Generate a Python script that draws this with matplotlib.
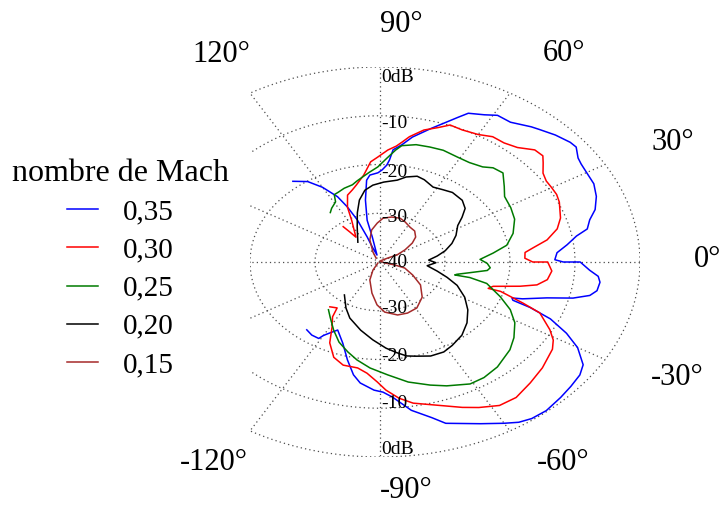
import numpy as np
import matplotlib
matplotlib.use("Agg")
import matplotlib.pyplot as plt

plt.rcParams['font.family'] = ['Liberation Serif', 'DejaVu Serif']

# directivity, angle (deg) and level (dB) for each Mach number
angle_035 = [129, 124, 120, 116, 114, 112, 111, 111, 108, 103, 103, 100, 97, 95, 91, 89, 87, 86, 85, 82,
             79, 74, 71, 68, 66, 62, 59, 55, 50, 48, 44, 40, 38, 35, 33, 30, 26, 22, 18, 15,
             12, 10, 7, 4, 1, 0, 0, -3, -5, -7, -10, -12, -14, -16, -19, -20, -21, -22, -24, -27,
             -30, -34, -37, -41, -45, -50, -54, -57, -60, -65, -73, -76, -81, -86, -89, -92, -97, -100, -104, -109,
             -115, -118, -120, -121, -125, -129]
level_035 = [-18.7, -20.1, -22.3, -25.1, -27.6, -30.7, -34.5, -36.9, -38.5, -34.7,
             -31.2, -27.1, -23.1, -22.1, -21.7, -21.1, -20.1, -19.0, -16.9, -15.7,
             -13.9, -11.5, -9.9, -8.0, -6.6, -5.8, -4.9, -5.0, -3.8, -3.4,
             -2.5, -1.8, -1.7, -2.8, -3.1, -3.3, -3.4, -4.1, -5.2, -6.6,
             -7.4, -9.3, -11.0, -12.7, -13.1, -11.8, -9.2, -7.7, -6.3, -5.9,
             -6.1, -7.0, -9.4, -13.3, -16.8, -18.4, -18.1, -15.1, -11.3, -7.8,
             -4.9, -2.3, -1.5, -1.1, -0.7, -0.2, -0.3, -0.8, -1.8, -3.4,
             -5.4, -7.1, -9.2, -12.2, -13.3, -13.7, -15.0, -16.5, -19.3, -22.4,
             -24.6, -23.5, -22.6, -21.7, -21.7, -22.1]

angle_030 = [128, 127, 126, 117, 114, 110, 106, 103, 98, 94, 91, 87, 84, 82, 80, 76, 72, 69, 65, 60,
             56, 52, 48, 45, 44, 41, 39, 36, 33, 30, 27, 24, 18, 14, 10, 7, 5, 2, 0, 0,
             -4, -8, -11, -13, -16, -18, -18, -21, -23, -28, -31, -34, -41, -47, -53, -58, -63, -67, -75, -80,
             -84, -88, -91, -95, -99, -105, -110, -115, -119, -123, -125, -130]
level_030 = [-30.8, -32.3, -33.7, -30.4, -27.7, -25.4, -24.6, -23.8, -22.0, -19.4,
             -18.5, -17.0, -16.1, -15.1, -13.9, -12.1, -11.0, -9.9, -10.1, -9.8,
             -9.0, -9.0, -8.4, -7.3, -6.9, -6.8, -7.7, -9.0, -9.5, -9.5,
             -9.5, -9.8, -10.8, -11.9, -13.9, -16.3, -17.6, -17.7, -16.5, -14.2,
             -13.5, -14.0, -15.4, -17.9, -21.9, -22.5, -20.5, -16.4, -13.3, -10.4,
             -8.9, -8.0, -6.9, -6.1, -5.2, -5.3, -6.5, -7.6, -9.7, -10.6,
             -11.9, -13.7, -15.4, -17.1, -18.0, -18.1, -19.2, -21.7, -24.8, -26.6,
             -28.5, -28.0]

angle_025 = [127, 124, 119, 117, 114, 110, 105, 102, 98, 95, 91, 87, 84, 82, 77, 72, 67, 61, 56, 51,
             48, 44, 39, 35, 29, 23, 16, 10, 6, 2, -1, -4, -6, -9, -12, -13, -13, -15, -21, -26,
             -31, -37, -42, -50, -56, -61, -68, -73, -80, -87, -94, -100, -105, -111, -117, -124, -129]
level_025 = [-27.3, -26.7, -25.9, -24.5, -24.3, -23.9, -23.6, -23.0, -22.2, -21.5,
             -20.5, -18.6, -16.9, -15.9, -15.3, -15.2, -15.1, -15.4, -15.4, -14.9,
             -14.0, -13.7, -15.4, -16.6, -17.0, -17.5, -18.7, -20.2, -22.5, -24.6,
             -23.5, -23.0, -23.4, -26.0, -27.9, -28.2, -25.8, -23.0, -20.2, -17.7,
             -15.8, -14.2, -13.1, -11.9, -11.4, -11.4, -12.6, -13.6, -15.0, -16.8,
             -18.2, -19.6, -20.9, -22.4, -24.3, -26.3, -27.4]

angle_020 = [130, 116, 109, 104, 99, 94, 88, 81, 77, 72, 68, 62, 57, 52, 45, 40, 36, 32, 25, 19,
             13, 8, 3, -1, -6, -12, -17, -22, -29, -36, -43, -50, -57, -62, -68, -74, -78, -82, -87, -94,
             -102, -112, -119, -129]
level_020 = [-34.7, -32.0, -29.3, -26.9, -25.1, -24.2, -23.6, -23.0, -22.1, -21.5,
             -21.8, -22.6, -22.3, -21.9, -22.1, -22.9, -24.4, -25.9, -27.1, -28.3,
             -29.7, -31.1, -32.5, -31.4, -32.7, -31.0, -29.2, -27.2, -25.1, -23.3,
             -21.7, -20.4, -19.6, -19.1, -19.2, -19.9, -20.3, -21.2, -22.3, -24.0,
             -25.7, -27.6, -29.2, -31.3]

angle_015 = [127, 118, 109, 101, 93, 87, 79, 71, 65, 57, 50, 43, 38, 33, 29, 34, 90, -15, -15, -18,
             -28, -37, -48, -59, -68, -76, -86, -93, -101, -113, -123, -146]
level_015 = [-39.0, -37.7, -35.2, -33.3, -32.0, -31.0, -30.6, -30.5, -30.9, -31.5,
             -31.7, -32.5, -33.7, -35.4, -37.0, -38.5, -39.8, -39.2, -37.6, -36.0,
             -34.3, -32.2, -30.3, -29.0, -28.7, -28.8, -29.7, -31.2, -33.5, -36.0,
             -38.0, -39.6]

mach_labels = ['0,35', '0,30', '0,25', '0,20', '0,15']
ring_levels = [-10, -20, -30, 0]
spoke_angles = list(range(0, 360, 30))

R0 = -40.0  # level at the centre


def to_xy(ang, lev):
    rho = np.asarray(lev, float) - R0
    a = np.radians(ang)
    return rho * np.cos(a), rho * np.sin(a)


fig = plt.figure(figsize=(7.2, 5.08), dpi=100)
ax = fig.add_axes([250/720, 51/508, 390/720, 390/508])
ax.set_xlim(-20, 40)
ax.set_ylim(-40, 40)
ax.axis('off')

# dotted polar grid, clipped by the axes box
grid = dict(color='0.3', lw=0.9, ls=(0, (1, 2.5)))
t = np.linspace(0, 360, 400)
for lev in ring_levels:
    ax.plot(*to_xy(t, np.full_like(t, lev)), **grid)
for a in spoke_angles:
    ax.plot(*to_xy([a, a], [R0, 0]), **grid)

series = [(angle_035, level_035, 'blue'),
          (angle_030, level_030, 'red'),
          (angle_025, level_025, '#007a00'),
          (angle_020, level_020, 'black'),
          (angle_015, level_015, 'brown')]
handles = []
for (ang, lev, col), lab in zip(series, mach_labels):
    h, = ax.plot(*to_xy(ang, lev), color=col, lw=1.1, label=lab)
    handles.append(h)

angle_txt = ['90°', '60°', '30°', '0°', '-30°', '-60°', '-90°', '-120°', '120°']
angle_pos = [(3.3, 48.8), (28.3, 42.7), (45.0, 24.5), (50.4, 0.6), (45.8, -23.7),
             (28.2, -41.2), (4.1, -46.9), (-25.6, -41.1), (-24.4, 42.5)]
for s, (x, y) in zip(angle_txt, angle_pos):
    ax.text(x, y, s, ha='center', va='center', fontsize=22, clip_on=False)

ring_txt = ['0dB', '-10', '-20', '-30', '-40', '-30', '-20', '-10', '0dB']
ring_y = [37.9, 28.5, 18.4, 9.1, -0.1, -9.6, -19.3, -29.1, -38.4]
for s, y in zip(ring_txt, ring_y):
    ax.text(0.15, y, s, ha='left', va='center', fontsize=14)

fig.legend(handles=handles, title='nombre de Mach', loc='center', bbox_to_anchor=(0.167, 0.472),
           frameon=False, fontsize=21, title_fontsize=23, handlelength=1.05,
           handletextpad=0.85, labelspacing=0.4)

fig.savefig('out.png', dpi=100)
